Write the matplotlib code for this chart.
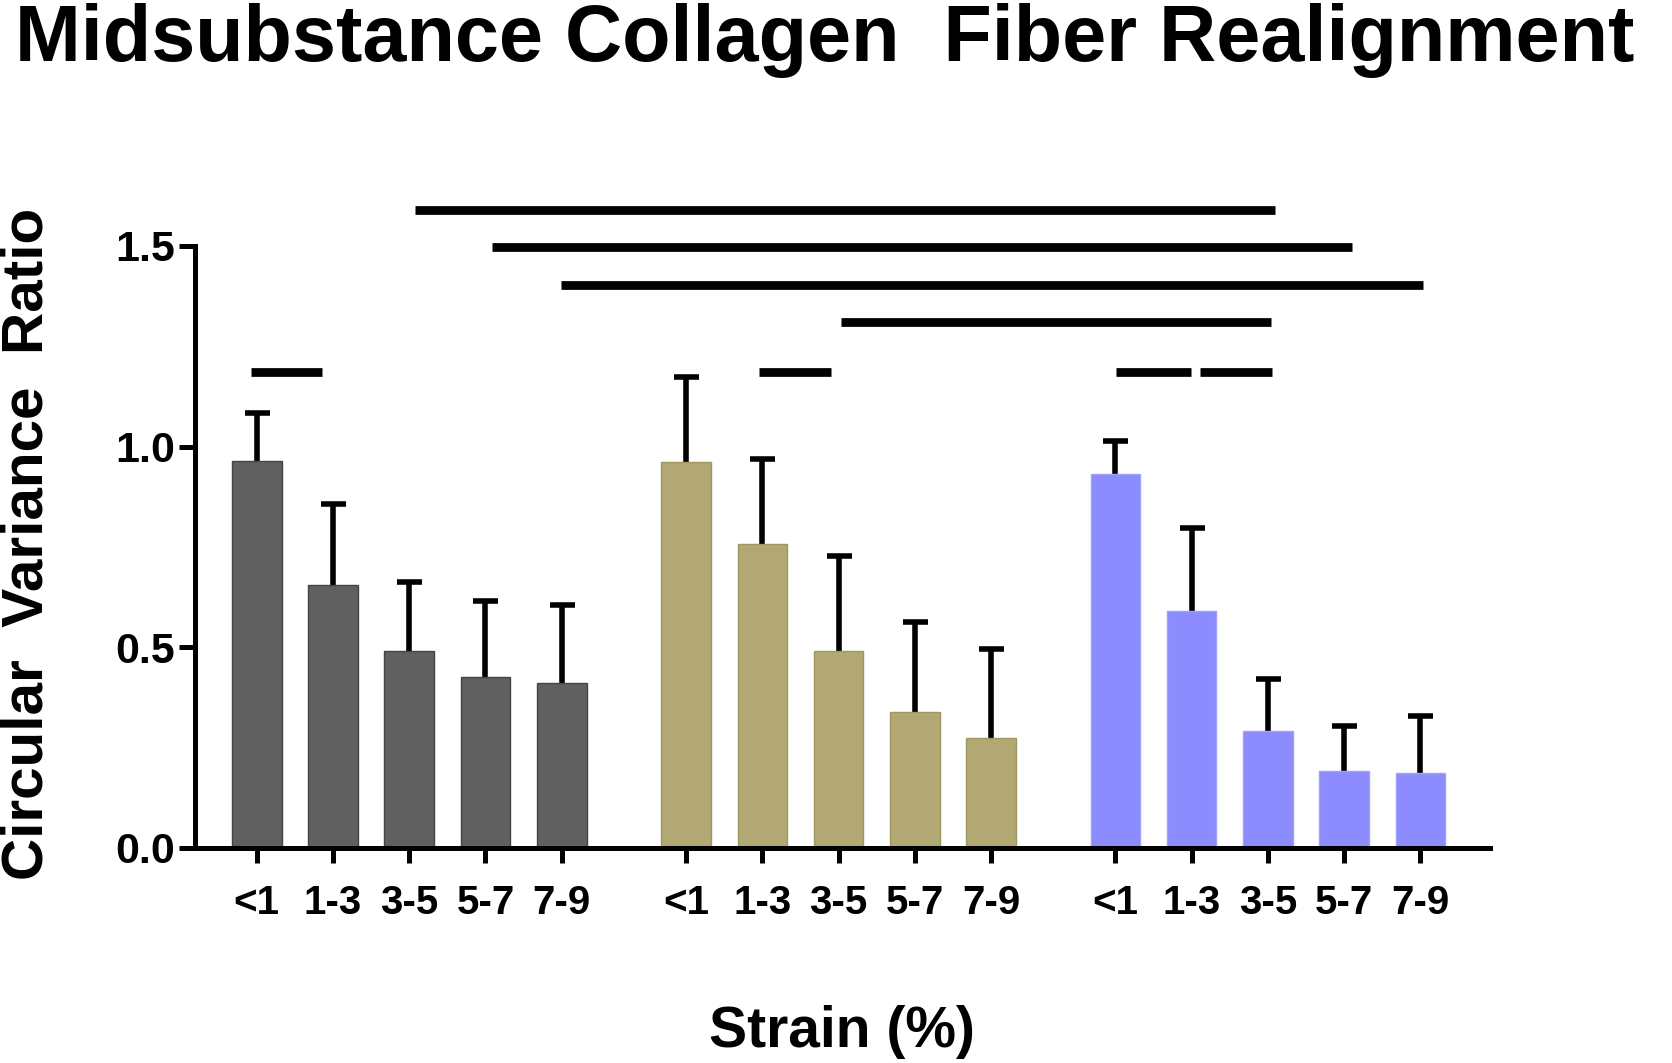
import numpy as np
import matplotlib
matplotlib.use("Agg")
import matplotlib.pyplot as plt

plt.rcParams['font.family'] = ['Liberation Sans', 'DejaVu Sans']
plt.rcParams['font.weight'] = 'bold'

# Strain bins and group means / upper SD
strain_bins = ['<1', '1-3', '3-5', '5-7', '7-9']
gray_mean = [0.963, 0.654, 0.490, 0.426, 0.412]
gray_sd = [0.122, 0.203, 0.172, 0.189, 0.193]
gold_mean = [0.961, 0.757, 0.490, 0.338, 0.274]
gold_sd = [0.213, 0.212, 0.237, 0.225, 0.223]
blue_mean = [0.931, 0.590, 0.292, 0.193, 0.188]
blue_sd = [0.082, 0.208, 0.128, 0.110, 0.141]

group_colors = ['#606060', '#b2a874', '#8c8cfe']
edge_colors = ['#444444', '#a09660', '#a0a0ff']

# Significance bars: (group a, bin pos a, group b, bin pos b, height)
sig_pairs = [
    (0, 2.07, 2, 2.09, 1.590),
    (0, 3.08, 2, 3.11, 1.497),
    (0, 3.99, 2, 4.03, 1.404),
    (1, 2.03, 2, 2.04, 1.311),
    (0, -0.07, 0, 0.85, 1.186),
    (1, 0.96, 1, 1.90, 1.186),
    (2, 0.01, 2, 0.99, 1.186),
    (2, 1.11, 2, 2.06, 1.186),
]

GROUP_STEP = 5.63


def xpos(g, i):
    return g * GROUP_STEP + i


fig = plt.figure(figsize=(16.72, 10.63), dpi=100)
ax = fig.add_axes([0.1166, 0.2023, 0.891 - 0.1166, 0.7686 - 0.2023])

means = [gray_mean, gold_mean, blue_mean]
sds = [gray_sd, gold_sd, blue_sd]
ticks, labels = [], []
for g in range(3):
    x = np.array([xpos(g, i) for i in range(len(strain_bins))])
    m = np.array(means[g])
    s = np.array(sds[g])
    ax.bar(x, m, width=0.65, color=group_colors[g], edgecolor=edge_colors[g],
           linewidth=1.0, zorder=2)
    _, caps, _ = ax.errorbar(x, m, yerr=[np.zeros_like(s), s], fmt='none',
                             ecolor='black', elinewidth=4.0, capsize=9,
                             capthick=4.0, zorder=1)
    # keep only the upper caps
    caps[0].remove()
    ticks.extend(x)
    labels.extend(strain_bins)

for ga, pa, gb, pb, y in sig_pairs:
    ax.plot([xpos(ga, pa), xpos(gb, pb)], [y, y], color='black', lw=6.3,
            solid_capstyle='butt', clip_on=False, zorder=3)

ax.set_xlim(-0.81, 16.17)
ax.set_ylim(0, 1.5)
ax.set_yticks([0.0, 0.5, 1.0, 1.5])
ax.set_yticklabels(['0.0', '0.5', '1.0', '1.5'])
ax.set_xticks(ticks)
ax.set_xticklabels(labels)

for side in ['top', 'right']:
    ax.spines[side].set_visible(False)
for side in ['left', 'bottom']:
    ax.spines[side].set_linewidth(3.6)
    ax.spines[side].set_capstyle('projecting')

ax.tick_params(axis='y', length=11.5, width=3.6, labelsize=31, pad=3)
ax.tick_params(axis='x', length=11, width=3.6, labelsize=29, pad=15)
for t in ax.get_xticklabels() + ax.get_yticklabels():
    t.set_fontweight('bold')

fig.text(0.009, 0.997, 'Midsubstance Collagen  Fiber Realignment',
         fontsize=57, fontweight='bold', ha='left', va='top')
fig.text(0.0165, 0.488, 'Circular  Variance  Ratio', fontsize=42,
         fontweight='bold', rotation=90, ha='center', va='center')
fig.text(0.5036, 0.029, 'Strain (%)', fontsize=41, fontweight='bold',
         ha='center', va='center')

fig.savefig('out.png', dpi=100, facecolor='white')
